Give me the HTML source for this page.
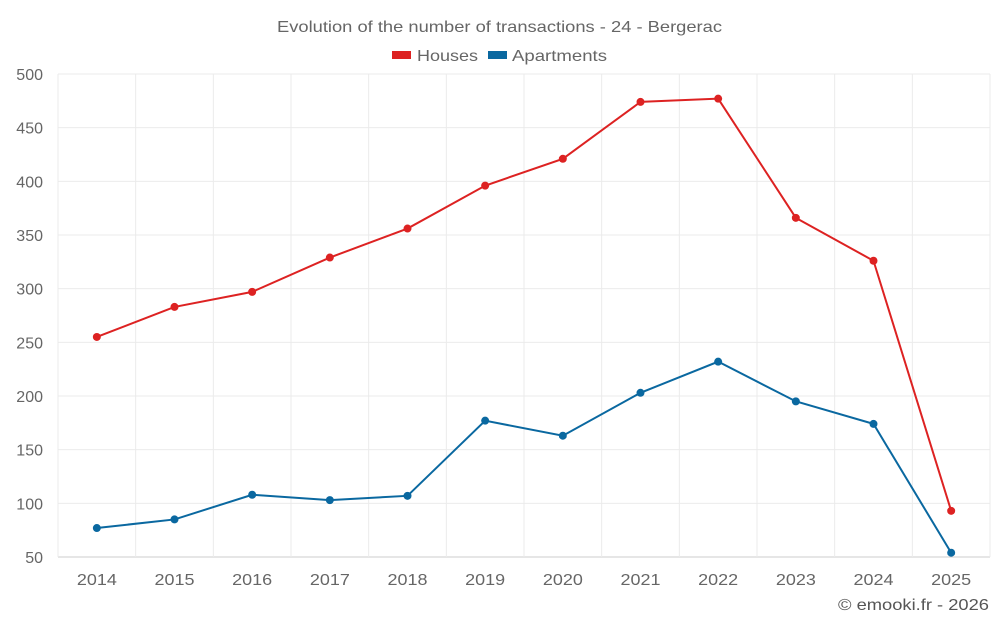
<!DOCTYPE html>
<html><head><meta charset="utf-8"><style>
body{margin:0;background:#fff;font-family:"Liberation Sans",sans-serif;}
svg text{font-family:"Liberation Sans",sans-serif;}
</style></head><body>
<svg id="c" width="1000" height="625">
<text x="277" y="32" textLength="445" lengthAdjust="spacingAndGlyphs" font-size="16" fill="#666">Evolution of the number of transactions - 24 - Bergerac</text>
<g>
<g><rect x="392" y="51" width="19" height="8" fill="#dd2222"/><text x="417" y="61" textLength="61" lengthAdjust="spacingAndGlyphs" font-size="16" fill="#666">Houses</text></g>
<g><rect x="488" y="51" width="19" height="8" fill="#0a68a0"/><text x="512" y="61" textLength="95" lengthAdjust="spacingAndGlyphs" font-size="16" fill="#666">Apartments</text></g>
</g>
<g id="grid"></g><g id="axes"></g><g id="series"></g>
<text x="838" y="610" textLength="151" lengthAdjust="spacingAndGlyphs" font-size="16" fill="#555">© emooki.fr - 2026</text>
</svg>
<script>
const years=["2014","2015","2016","2017","2018","2019","2020","2021","2022","2023","2024","2025"];
const houses=[255,283,297,329,356,396,421,474,477,366,326,93];
const apartments=[77,85,108,103,107,177,163,203,232,195,174,54];
const yTicks=[50,100,150,200,250,300,350,400,450,500];
const L=58,R=990,T=74,B=557,ymin=50,ymax=500;
const step=(R-L)/years.length;
const x=i=>L+step*(i+0.5);
const y=v=>B-(v-ymin)/(ymax-ymin)*(B-T);
const NS="http://www.w3.org/2000/svg";
function mk(t,a,p){const e=document.createElementNS(NS,t);for(const k in a)e.setAttribute(k,a[k]);p.appendChild(e);return e;}
const g=document.getElementById('grid'),ax=document.getElementById('axes'),s=document.getElementById('series');
yTicks.forEach(v=>{
 const l=mk('line',{x1:L,x2:R,y1:y(v),y2:y(v),stroke:v===ymin?'#ccc':'#ebebeb'},g);
 
 
 const t=mk('text',{x:L-15,y:y(v)+6,'text-anchor':'end','font-size':16,fill:'#666'},ax);t.textContent=v;
 
 
});
for(let i=0;i<=years.length;i++){
 const l=mk('line',{x1:L+step*i,x2:L+step*i,y1:T,y2:B,stroke:'#ebebeb'},g);
 
 
}
years.forEach((yr,i)=>{
 const t=mk('text',{x:x(i),y:585,'text-anchor':'middle','font-size':16,fill:'#666',textLength:40,lengthAdjust:'spacingAndGlyphs'},ax);t.textContent=yr;
 
 
});
function series(vals,color,name){
 const p=mk('polyline',{points:vals.map((v,i)=>x(i)+','+y(v)).join(' '),fill:'none',stroke:color,'stroke-width':2},s);
 
 
 vals.forEach((v,i)=>{
  const c=mk('circle',{cx:x(i),cy:y(v),r:4,fill:color},s);
  
  
 });
}
series(houses,'#dd2222','houses');
series(apartments,'#0a68a0','apartments');
</script>
</body></html>
